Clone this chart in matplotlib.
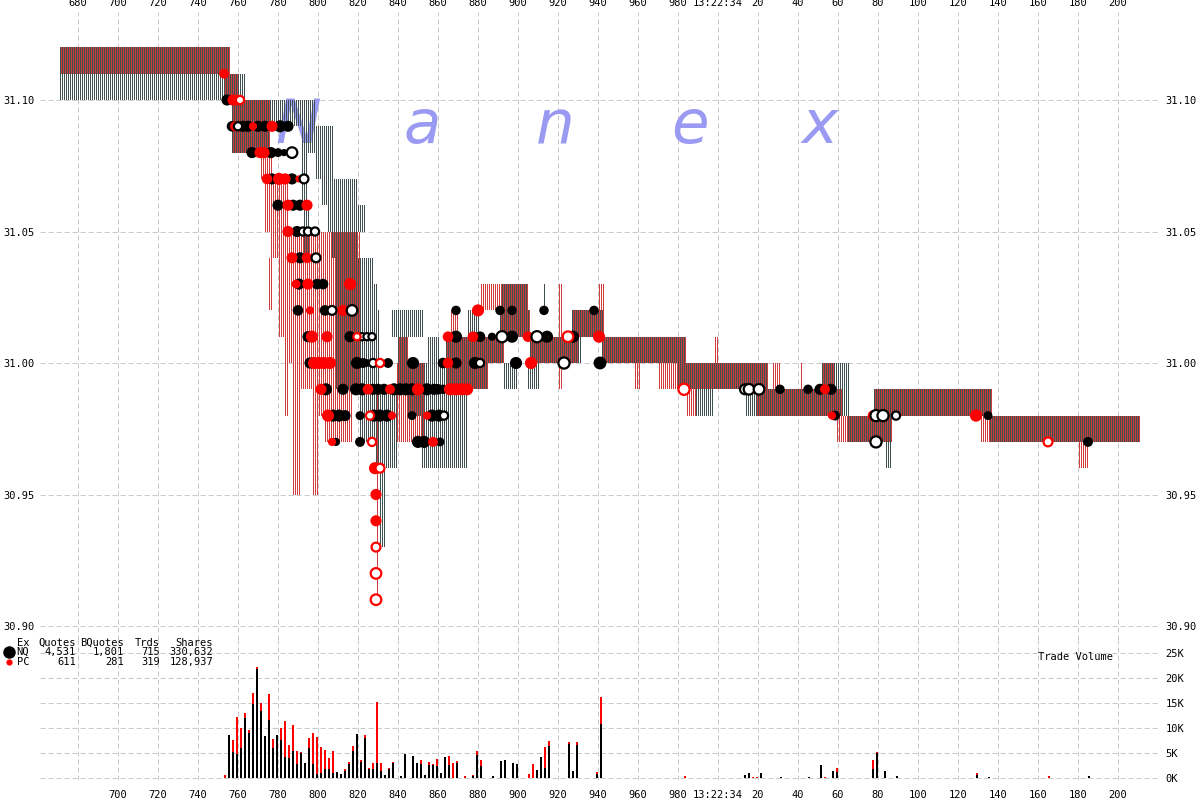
import numpy as np
import matplotlib
matplotlib.use("Agg")
import matplotlib.pyplot as plt
from matplotlib.lines import Line2D

# quote spreads: (start ms, end ms, bid, ask)
nq_quotes = [
    (671, 756, 31.10, 31.12), (751, 764, 31.10, 31.11), (757, 799, 31.09, 31.10),
    (757, 776, 31.08, 31.09), (792, 808, 31.08, 31.09), (792, 795, 31.06, 31.08),
    (793, 796, 31.04, 31.06), (799, 808, 31.07, 31.08), (807, 813, 31.06, 31.07),
    (802, 820, 31.06, 31.07), (805, 824, 31.05, 31.06), (807, 820, 31.04, 31.05),
    (819, 828, 31.03, 31.04), (821, 830, 31.02, 31.03), (809, 821, 30.99, 31.04),
    (821, 831, 30.97, 31.02), (829, 840, 30.96, 30.99), (831, 834, 30.93, 30.96),
    (837, 853, 31.01, 31.02), (840, 845, 30.99, 31.01), (845, 853, 30.98, 31.00),
    (852, 875, 30.96, 31.00), (855, 861, 30.99, 31.01), (864, 885, 30.99, 31.01),
    (866, 893, 31.00, 31.01), (875, 881, 31.01, 31.02), (892, 905, 31.02, 31.03),
    (891, 906, 31.01, 31.02), (893, 900, 30.99, 31.00), (905, 911, 30.99, 31.00),
    (906, 930, 31.00, 31.01), (913, 914, 31.02, 31.03), (927, 943, 31.01, 31.02),
    (929, 932, 31.00, 31.01), (942, 984, 31.00, 31.01), (980, 1025, 30.99, 31.00),
    (984, 991, 30.99, 31.00), (989, 998, 30.98, 30.99), (1014, 1019, 30.98, 30.99),
    (1019, 1062, 30.98, 30.99), (1052, 1058, 30.99, 31.00), (1058, 1066, 30.98, 31.00),
    (1065, 1087, 30.97, 30.98), (1084, 1087, 30.96, 30.97), (1078, 1137, 30.98, 30.99),
    (1136, 1211, 30.97, 30.98),
]
pc_quotes = [
    (671, 756, 31.11, 31.12), (753, 760, 31.10, 31.11), (757, 776, 31.08, 31.10),
    (771, 777, 31.07, 31.08), (773, 776, 31.05, 31.07), (776, 785, 31.04, 31.07),
    (775, 777, 31.02, 31.04), (780, 782, 31.01, 31.04), (781, 783, 31.01, 31.05),
    (783, 785, 30.98, 31.05), (785, 787, 31.00, 31.05), (787, 791, 30.95, 31.05),
    (791, 797, 30.99, 31.05), (797, 800, 30.95, 31.05), (800, 803, 30.98, 31.05),
    (803, 817, 30.97, 31.05), (817, 821, 30.99, 31.05), (829, 830, 30.91, 30.99),
    (839, 853, 30.97, 31.00), (840, 845, 31.00, 31.01), (864, 885, 30.99, 31.01),
    (866, 870, 31.01, 31.02), (866, 893, 31.00, 31.01), (881, 905, 31.02, 31.03),
    (891, 906, 31.01, 31.02), (906, 930, 31.00, 31.01), (920, 922, 30.99, 31.03),
    (927, 943, 31.01, 31.02), (940, 943, 31.02, 31.03), (942, 984, 31.00, 31.01),
    (958, 961, 30.99, 31.00), (970, 984, 30.99, 31.00), (980, 1025, 30.99, 31.00),
    (984, 989, 30.98, 30.99), (998, 1000, 31.00, 31.01), (1019, 1062, 30.98, 30.99),
    (1027, 1031, 30.99, 31.00), (1041, 1042, 30.99, 31.00), (1052, 1058, 30.99, 31.00),
    (1059, 1066, 30.97, 30.98), (1065, 1087, 30.97, 30.98), (1078, 1137, 30.98, 30.99),
    (1131, 1136, 30.97, 30.98), (1136, 1211, 30.97, 30.98), (1180, 1185, 30.96, 30.97),
]

# trades: (ms, price, shares, flagged)
nq_trades = [
    (754.5, 31.10, 1000, 0),
    (757, 31.09, 800, 0), (760, 31.09, 300, 1), (762.5, 31.09, 1000, 0), (765, 31.09, 1000, 0),
    (770, 31.09, 1000, 0), (773.5, 31.09, 1000, 0), (781, 31.09, 1500, 0), (785, 31.09, 1000, 0),
    (767, 31.08, 1000, 0), (776.5, 31.08, 1000, 0), (780, 31.08, 400, 0), (783, 31.08, 200, 0),
    (787, 31.08, 800, 1),
    (777, 31.07, 1000, 0), (787, 31.07, 1000, 0), (793, 31.07, 400, 1),
    (780, 31.06, 1000, 0), (787.5, 31.06, 1000, 0), (791, 31.06, 1000, 0),
    (789.5, 31.05, 1000, 0), (792.5, 31.05, 300, 1), (795, 31.05, 300, 1), (798.5, 31.05, 300, 1),
    (791, 31.04, 1000, 0), (799, 31.04, 400, 1),
    (790.5, 31.03, 1000, 0), (799.5, 31.03, 800, 0), (802.5, 31.03, 800, 0),
    (790, 31.02, 800, 0), (803.5, 31.02, 800, 0), (807, 31.02, 400, 1), (817, 31.02, 800, 1),
    (869, 31.02, 500, 0), (891, 31.02, 500, 0), (897, 31.02, 500, 0), (913, 31.02, 500, 0),
    (938, 31.02, 500, 0),
    (795, 31.01, 1000, 0), (816, 31.01, 1000, 0), (822, 31.01, 200, 1), (824.5, 31.01, 200, 1),
    (827, 31.01, 200, 1), (869, 31.01, 1500, 0), (881, 31.01, 800, 0), (887, 31.01, 300, 0),
    (892, 31.01, 1000, 1), (897, 31.01, 1500, 0), (909.5, 31.01, 1000, 1), (914.5, 31.01, 1500, 0),
    (927.5, 31.01, 1500, 0),
    (796, 31.00, 1000, 0), (819.5, 31.00, 1500, 0), (822.5, 31.00, 600, 0), (824, 31.00, 300, 0),
    (827.5, 31.00, 300, 1), (835, 31.00, 600, 0), (847.5, 31.00, 1500, 0), (862.5, 31.00, 800, 0),
    (869, 31.00, 1000, 0), (878.5, 31.00, 1500, 0), (881, 31.00, 300, 1), (899, 31.00, 1500, 0),
    (923, 31.00, 1000, 1), (941, 31.00, 2000, 0),
    (804, 30.99, 1500, 0), (812.5, 30.99, 1000, 0), (819, 30.99, 1500, 0), (822, 30.99, 1500, 0),
    (827.5, 30.99, 1000, 0), (830, 30.99, 1000, 0), (833, 30.99, 1000, 0), (838, 30.99, 1500, 0),
    (841, 30.99, 1500, 0), (844, 30.99, 1500, 0), (847, 30.99, 1500, 0), (854.5, 30.99, 1500, 0),
    (858, 30.99, 1000, 0), (860, 30.99, 800, 0), (862.5, 30.99, 500, 0),
    (807.5, 30.98, 1500, 0), (810.5, 30.98, 1500, 0), (813.5, 30.98, 1000, 0), (821, 30.98, 400, 0),
    (828, 30.98, 1500, 0), (831, 30.98, 1500, 0), (834.5, 30.98, 1500, 0), (847, 30.98, 400, 0),
    (857, 30.98, 1500, 0), (860.5, 30.98, 1500, 0), (863, 30.98, 300, 1),
    (809, 30.97, 300, 0), (821, 30.97, 600, 0), (850, 30.97, 1500, 0), (853, 30.97, 1500, 0),
    (861, 30.97, 400, 0),
    (1013.5, 30.99, 600, 1), (1015.5, 30.99, 800, 1), (1020.5, 30.99, 800, 1),
    (1031, 30.99, 500, 0), (1045, 30.99, 500, 0), (1051, 30.99, 1000, 0), (1056.5, 30.99, 1000, 0),
    (1058.5, 30.98, 600, 0), (1079, 30.98, 1000, 1), (1082.5, 30.98, 1000, 1), (1089, 30.98, 300, 1),
    (1079, 30.97, 1000, 1), (1135, 30.98, 400, 0), (1185, 30.97, 600, 0),
]
pc_trades = [
    (753, 31.11, 600, 0),
    (757.5, 31.10, 1000, 0), (759.5, 31.10, 800, 0), (761, 31.10, 300, 1),
    (758.5, 31.09, 600, 0), (767.5, 31.09, 300, 0), (777, 31.09, 1000, 0),
    (771, 31.08, 1000, 0), (773, 31.08, 1000, 0),
    (774.5, 31.07, 800, 0), (780.5, 31.07, 1500, 0), (783.5, 31.07, 1000, 0), (790.5, 31.07, 200, 0),
    (785, 31.06, 1000, 0), (794.5, 31.06, 1000, 0),
    (785, 31.05, 1000, 0),
    (787, 31.04, 1000, 0), (794.5, 31.04, 800, 0),
    (789, 31.03, 400, 0), (795, 31.03, 1000, 0), (816, 31.03, 1500, 0),
    (796, 31.02, 300, 0), (812.5, 31.02, 1000, 0), (880, 31.02, 1500, 0),
    (797, 31.01, 1500, 0), (804.5, 31.01, 1000, 0), (819.5, 31.01, 200, 1), (865, 31.01, 800, 0),
    (877.5, 31.01, 800, 0), (905, 31.01, 800, 0), (925, 31.01, 800, 1), (940.5, 31.01, 1500, 0),
    (798, 31.00, 1500, 0), (800.5, 31.00, 1500, 0), (803, 31.00, 1500, 0), (806, 31.00, 1500, 0),
    (831, 31.00, 300, 1), (865, 31.00, 800, 0), (906.5, 31.00, 1500, 0),
    (801.5, 30.99, 1000, 0), (825, 30.99, 800, 0), (836, 30.99, 600, 0), (850, 30.99, 1500, 0),
    (866, 30.99, 1500, 0), (869, 30.99, 1500, 0), (872, 30.99, 1500, 0), (874.5, 30.99, 1500, 0),
    (805, 30.98, 1500, 0), (826, 30.98, 300, 1), (837, 30.98, 300, 0), (854.5, 30.98, 300, 0),
    (807, 30.97, 300, 0), (827, 30.97, 300, 1), (857.5, 30.97, 600, 0),
    (828.5, 30.96, 1500, 0), (831, 30.96, 400, 1),
    (829, 30.95, 1000, 0), (829, 30.94, 1000, 0), (829, 30.93, 400, 1), (829, 30.92, 800, 1),
    (829, 30.91, 800, 1),
    (983, 30.99, 1000, 1), (1017.5, 30.99, 400, 0), (1053.5, 30.99, 600, 0),
    (1057, 30.98, 300, 0), (1077.5, 30.98, 800, 0), (1129, 30.98, 1500, 0), (1165, 30.97, 400, 1),
]

# trade volume per 2 ms bin (thousands of shares)
vol_t = [753.5, 755.5, 757.5, 759.5, 761.5, 763.5, 765.5, 767.5, 769.5, 771.5, 773.5, 775.5,
         777.5, 779.5, 781.5, 783.5, 785.5, 787.5, 789.5, 791.5, 793.5, 795.5, 797.5, 799.5,
         801.5, 803.5, 805.5, 807.5, 809.5, 811.5, 813.5, 815.5, 817.5, 819.5, 821.5, 823.5,
         825.5, 827.5, 829.5, 831.5, 833.5, 835.5, 837.5, 841.5, 843.5, 847.5, 849.5, 851.5,
         853.5, 855.5, 857.5, 859.5, 861.5, 863.5, 865.5, 867.5, 869.5, 873.5, 877.5, 879.5,
         881.5, 887.5, 891.5, 893.5, 897.5, 899.5, 905.5, 907.5, 909.5, 911.5, 913.5, 915.5,
         925.5, 927.5, 929.5, 939.5, 941.5, 983.5, 1013.5, 1015.5, 1017.5, 1019.5, 1021.5, 1031.5,
         1045.5, 1051.5, 1053.5, 1057.5, 1059.5, 1077.5, 1079.5, 1083.5, 1089.5, 1129.5, 1135.5,
         1165.5, 1185.5]
vol_nq = [0, 8.5, 5.2, 4.7, 6.0, 11.9, 9.0, 14.7, 21.7, 13.3, 8.3, 11.5,
          6.0, 8.5, 7.5, 4.2, 4.0, 5.3, 2.7, 4.9, 2.9, 6.0, 2.7, 0.7,
          0.9, 1.7, 1.7, 0.9, 1.1, 0.7, 1.3, 2.7, 5.3, 8.7, 3.2, 8.0,
          1.7, 1.7, 2.9, 1.4, 0.6, 1.7, 2.9, 0.3, 4.7, 4.3, 3.0, 2.7,
          0.5, 2.5, 2.5, 2.3, 0.9, 4.1, 2.5, 0, 2.9, 0, 0.3, 4.5,
          2.3, 0.3, 3.3, 3.5, 2.9, 2.7, 0, 0, 1.5, 4.1, 1.9, 6.3,
          6.7, 1.3, 6.5, 0.7, 10.8, 0, 0.5, 0.9, 0, 0, 0.9, 0.15,
          0.2, 2.5, 0, 1.4, 1.1, 1.7, 5.0, 1.3, 0.3, 0.5, 0.2,
          0, 0.3]
vol_pc = [0.5, 0, 2.3, 7.5, 4.0, 1.0, 0.5, 2.2, 0.5, 1.6, 0, 5.2,
          1.7, 0, 2.5, 7.1, 2.5, 5.2, 2.6, 0.2, 0, 2.0, 6.2, 7.5,
          5.3, 3.8, 2.3, 4.4, 0, 0, 0.4, 0.5, 1.1, 0, 0.3, 0.5,
          0.3, 1.2, 12.3, 1.5, 0, 0.2, 0.3, 0, 0, 0, 0, 0.8,
          0, 0.6, 0.2, 1.4, 0, 0, 1.8, 2.9, 0.4, 0.3, 0.2, 0.8,
          1.2, 0, 0, 0, 0, 0, 0.7, 2.7, 0, 0, 4.2, 1.0,
          0.4, 0, 0.6, 0.4, 5.3, 0.3, 0, 0, 0.15, 0.15, 0, 0,
          0, 0, 0.2, 0, 0.9, 1.8, 0.2, 0, 0, 0.5, 0,
          0.4, 0]

# summary table
ex_names = ["NQ", "PC"]
ex_quotes = [4531, 611]
ex_bquotes = [1801, 281]
ex_trds = [715, 319]
ex_shares = [330632, 128937]

x_ticks = list(range(680, 1201, 20))
top_labels = ["680", "700", "720", "740", "760", "780", "800", "820", "840", "860", "880",
              "900", "920", "940", "960", "980", "13:22:34", "20", "40", "60", "80", "100",
              "120", "140", "160", "180", "200"]
bottom_labels = [""] + top_labels[1:]
price_ticks = [30.90, 30.95, 31.00, 31.05, 31.10]
vol_ticks = [0, 5, 10, 15, 20, 25]

DARK = "#3e5050"
QRED = "#d03c3c"
GRID = "#c8c8c8"
MONO = "DejaVu Sans Mono"
W, H = 1200, 800


def fx(px):
    return px / W


def fy(py):
    return 1 - py / H


fig = plt.figure(figsize=(12, 8), dpi=100)
fig.patch.set_facecolor("white")
ax_p = fig.add_axes([fx(40), fy(640), fx(1120), 628 / H])
ax_v = fig.add_axes([fx(40), fy(780), fx(1120), 140 / H])

for ax in (ax_p, ax_v):
    ax.set_facecolor("none")
    for s in ax.spines.values():
        s.set_visible(False)
    ax.set_axisbelow(True)
    ax.grid(True, color=GRID, linewidth=0.72, dashes=(5, 3))
    ax.set_xlim(661, 1221)

ax_p.set_ylim(30.89468, 31.13346)
ax_v.set_ylim(-0.46, 27.54)


def draw_quotes(quotes, offset, color):
    # one 1-px column per ms from bid to ask
    xs, lo, hgt = [], [], []
    for t0, t1, bid, ask in quotes:
        for t in np.arange(t0, t1):
            xs.append(t + offset)
            lo.append(bid)
            hgt.append(ask - bid)
    ax_p.bar(xs, hgt, bottom=lo, width=0.5, align="edge", color=color,
             linewidth=0, antialiased=False, zorder=2)


draw_quotes(nq_quotes, 0.0, DARK)
draw_quotes(pc_quotes, 0.5, QRED)


def marker_area(shares):
    d = 5.5 + 1.7 * np.log2(np.asarray(shares) / 100.0)
    return (d * 0.72) ** 2


def draw_trades(trades, color):
    tr = np.array(trades, dtype=float)
    solid = tr[:, 3] == 0
    ax_p.scatter(tr[solid, 0], tr[solid, 1], s=marker_area(tr[solid, 2]), c=color,
                 linewidths=0, zorder=3)
    return tr[~solid]


nq_flag = draw_trades(nq_trades, "black")
pc_flag = draw_trades(pc_trades, "red")
ax_p.scatter(nq_flag[:, 0], nq_flag[:, 1], s=marker_area(nq_flag[:, 2]), facecolors="white",
             edgecolors="black", linewidths=1.6, zorder=4)
ax_p.scatter(pc_flag[:, 0], pc_flag[:, 1], s=marker_area(pc_flag[:, 2]), facecolors="white",
             edgecolors="red", linewidths=1.6, zorder=4)

# watermark
for ch, xp in zip("Nanex", [298, 422, 555, 690, 820]):
    ax_p.text(fx(xp), fy(143), ch, transform=fig.transFigure, fontsize=44, style="italic",
              color="#9a9af2", ha="center", va="baseline", zorder=1)

# volume bars
ax_v.bar(vol_t, vol_nq, width=1.0, color="black", linewidth=0, zorder=2)
ax_v.bar(vol_t, vol_pc, bottom=vol_nq, width=1.0, color="red", linewidth=0, zorder=2)

# ticks
ax_p.set_xticks(x_ticks)
ax_p.set_xticklabels(top_labels)
ax_p.set_yticks(price_ticks)
ax_p.set_yticklabels(["%.2f" % p for p in price_ticks])
ax_p.tick_params(axis="x", top=True, labeltop=True, bottom=False, labelbottom=False,
                 length=0, pad=3)
ax_p.tick_params(axis="y", left=True, right=True, labelleft=True, labelright=True,
                 length=0, pad=4)
ax_v.set_xticks(x_ticks)
ax_v.set_xticklabels(bottom_labels)
ax_v.set_yticks(vol_ticks)
ax_v.set_yticklabels(["%dK" % v for v in vol_ticks])
ax_v.tick_params(axis="y", left=False, labelleft=False, right=True, labelright=True,
                 length=0, pad=4)
ax_v.tick_params(axis="x", bottom=True, labelbottom=True, length=0, pad=7)
for ax in (ax_p, ax_v):
    for lab in ax.get_xticklabels() + ax.get_yticklabels():
        lab.set_fontfamily(MONO)
        lab.set_fontsize(7.5)

# summary table
cols_x = [29, 76, 124, 160, 213]
heads = ["Ex", "Quotes", "BQuotes", "Trds", "Shares"]
for xp, h in zip(cols_x, heads):
    fig.text(fx(xp), fy(643), h, ha="right", va="center", fontsize=7.5, family=MONO)
for i, name in enumerate(ex_names):
    yp = 652 + 10 * i
    vals = [name, f"{ex_quotes[i]:,}", f"{ex_bquotes[i]:,}", f"{ex_trds[i]:,}", f"{ex_shares[i]:,}"]
    for xp, v in zip(cols_x, vals):
        fig.text(fx(xp), fy(yp), v, ha="right", va="center", fontsize=7.5, family=MONO)
fig.add_artist(Line2D([fx(9)], [fy(652)], marker="o", markersize=9, color="black",
                      markeredgewidth=0, transform=fig.transFigure))
fig.add_artist(Line2D([fx(9)], [fy(662)], marker="o", markersize=4.5, color="red",
                      markeredgewidth=0, transform=fig.transFigure))
fig.text(fx(1038), fy(657), "Trade Volume", ha="left", va="center", fontsize=7.5, family=MONO)

fig.savefig("out.png", dpi=100)
